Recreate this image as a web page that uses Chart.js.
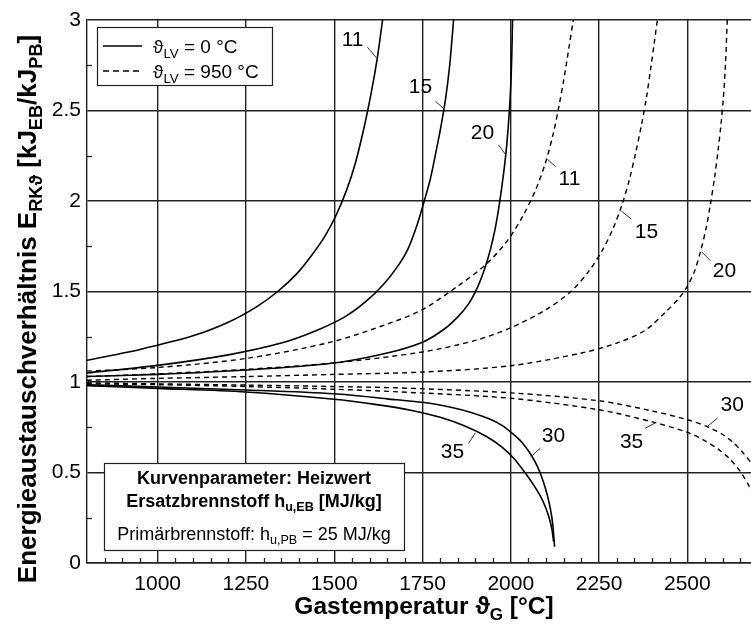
<!DOCTYPE html>
<html><head><meta charset="utf-8">
<script src="https://cdn.jsdelivr.net/npm/chart.js@4"></script>
<style>html,body{margin:0;padding:0;overflow:hidden;background:#fff;}#wrap{width:770px;height:625px;}</style>
</head><body><div id="wrap"><canvas id="c" width="770" height="625"></canvas></div>
<script>
const FONT = '"Liberation Sans", Arial, Helvetica, sans-serif';
const xTicks = [1000, 1250, 1500, 1750, 2000, 2250, 2500];
const yTicks = [0, 0.5, 1, 1.5, 2, 2.5, 3];
const yTickLabels = ['0', '0.5', '1', '1.5', '2', '2.5', '3'];

// ϑLV = 0 °C (solid)
const solid11X = [800, 950, 1100, 1200, 1280, 1340, 1395, 1440, 1475, 1505, 1535, 1560, 1585, 1605, 1622, 1637];
const solid11Y = [1.12, 1.18, 1.255, 1.33, 1.415, 1.50, 1.60, 1.71, 1.81, 1.92, 2.06, 2.21, 2.41, 2.60, 2.79, 3.0];
const solid15X = [800, 1000, 1200, 1350, 1450, 1530, 1590, 1640, 1680, 1710, 1735, 1755, 1772, 1788, 1802, 1815, 1827, 1838];
const solid15Y = [1.05, 1.092, 1.15, 1.215, 1.285, 1.36, 1.445, 1.54, 1.64, 1.74, 1.87, 2.0, 2.12, 2.27, 2.41, 2.56, 2.75, 3.0];
const solid20X = [800, 1000, 1250, 1500, 1650, 1750, 1810, 1850, 1880, 1905, 1925, 1942, 1955, 1965, 1974, 1982, 1989, 1995, 2000, 2003, 2005];
const solid20Y = [1.03, 1.042, 1.066, 1.105, 1.16, 1.22, 1.29, 1.36, 1.43, 1.52, 1.62, 1.73, 1.84, 1.95, 2.07, 2.19, 2.32, 2.47, 2.64, 2.82, 3.0];
const solid30X = [800, 1000, 1250, 1500, 1650, 1760, 1830, 1890, 1940, 1975, 2005, 2030, 2055, 2075, 2092, 2104, 2113, 2119, 2124];
const solid30Y = [0.985, 0.972, 0.956, 0.935, 0.907, 0.885, 0.86, 0.83, 0.795, 0.76, 0.715, 0.67, 0.605, 0.535, 0.45, 0.37, 0.29, 0.21, 0.09];
const solid35X = [800, 1000, 1250, 1500, 1620, 1720, 1800, 1870, 1930, 1975, 2010, 2040, 2065, 2085, 2100, 2110, 2117, 2121];
const solid35Y = [0.98, 0.965, 0.945, 0.905, 0.875, 0.843, 0.805, 0.757, 0.70, 0.64, 0.575, 0.50, 0.43, 0.365, 0.30, 0.24, 0.18, 0.12];

// ϑLV = 950 °C (dashed)
const dash11X = [800, 1000, 1250, 1490, 1650, 1750, 1850, 1930, 1990, 2035, 2070, 2098, 2120, 2136, 2150, 2164, 2177];
const dash11Y = [1.06, 1.08, 1.13, 1.22, 1.32, 1.40, 1.53, 1.65, 1.78, 1.92, 2.06, 2.21, 2.37, 2.52, 2.67, 2.84, 3.0];
const dash15X = [800, 1000, 1250, 1500, 1750, 1900, 2000, 2100, 2170, 2220, 2260, 2290, 2315, 2336, 2354, 2370, 2384, 2396, 2406, 2415];
const dash15Y = [1.03, 1.045, 1.07, 1.105, 1.166, 1.23, 1.30, 1.40, 1.50, 1.61, 1.73, 1.85, 1.98, 2.12, 2.27, 2.42, 2.57, 2.73, 2.87, 3.0];
const dash20X = [800, 1000, 1250, 1500, 1750, 2000, 2200, 2300, 2380, 2440, 2475, 2500, 2520, 2537, 2552, 2565, 2577, 2587, 2595, 2602, 2608, 2613];
const dash20Y = [1.01, 1.02, 1.03, 1.042, 1.055, 1.09, 1.16, 1.215, 1.285, 1.39, 1.46, 1.53, 1.61, 1.72, 1.84, 1.98, 2.13, 2.28, 2.42, 2.57, 2.76, 3.0];
const dash30X = [800, 1000, 1250, 1500, 1688, 2000, 2254, 2400, 2503, 2560, 2600, 2630, 2655, 2680, 2700];
const dash30Y = [0.995, 0.99, 0.983, 0.975, 0.967, 0.94, 0.895, 0.84, 0.79, 0.75, 0.71, 0.665, 0.615, 0.555, 0.50];
const dash35X = [800, 1000, 1250, 1500, 1688, 2000, 2254, 2400, 2503, 2550, 2590, 2620, 2650, 2675, 2700];
const dash35Y = [0.99, 0.985, 0.975, 0.96, 0.945, 0.91, 0.845, 0.78, 0.72, 0.675, 0.625, 0.575, 0.505, 0.425, 0.33];

// curve labels: text, text centre (x,y), leader from a to b (data units)
const curveLabels = [
  {t: '11', x: 1552, y: 2.89, a: [1594, 2.85], b: [1620, 2.79]},
  {t: '15', x: 1744, y: 2.63, a: [1787, 2.55], b: [1810, 2.51]},
  {t: '20', x: 1920, y: 2.375, a: [1965, 2.31], b: [1984, 2.26]},
  {t: '11', x: 2166, y: 2.12, a: [2104, 2.23], b: [2127, 2.19]},
  {t: '15', x: 2384, y: 1.83, a: [2313, 1.945], b: [2341, 1.90]},
  {t: '20', x: 2605, y: 1.61, a: [2540, 1.72], b: [2565, 1.67]},
  {t: '35', x: 1835, y: 0.61, a: [1880, 0.66], b: [1900, 0.72]},
  {t: '30', x: 2121, y: 0.70, a: [2056, 0.585], b: [2084, 0.635]},
  {t: '35', x: 2342, y: 0.67, a: [2381, 0.745], b: [2410, 0.775]},
  {t: '30', x: 2627, y: 0.87, a: [2557, 0.755], b: [2585, 0.80]}
];

function series(xs, ys, dashed) {
  return {
    data: xs.map((x, i) => ({x: x, y: ys[i]})),
    borderColor: '#000', borderWidth: dashed ? 1.4 : 1.6,
    borderDash: dashed ? [5, 4] : [], showLine: true, pointRadius: 0,
    tension: 0.3, fill: false
  };
}

function richWidth(ctx, parts, size, bold) {
  let w = 0;
  for (const p of parts) {
    ctx.font = (bold ? 'bold ' : '') + (p[1] ? size * 0.7 : size) + 'px ' + FONT;
    w += ctx.measureText(p[0]).width;
  }
  return w;
}
function drawRich(ctx, parts, x, y, size, bold, align) {
  const w = richWidth(ctx, parts, size, bold);
  let cx = align === 'center' ? x - w / 2 : (align === 'right' ? x - w : x);
  ctx.textAlign = 'left'; ctx.textBaseline = 'alphabetic'; ctx.fillStyle = '#000';
  for (const p of parts) {
    ctx.font = (bold ? 'bold ' : '') + (p[1] ? size * 0.7 : size) + 'px ' + FONT;
    ctx.fillText(p[0], cx, y + (p[1] ? size * 0.24 : 0));
    cx += ctx.measureText(p[0]).width;
  }
}

const decor = {
  id: 'decor',
  afterDatasetsDraw(chart) {
    const ctx = chart.ctx, xs = chart.scales.x, ys = chart.scales.y;
    const area = chart.chartArea;
    ctx.save();
    // minor ticks
    ctx.strokeStyle = '#222'; ctx.lineWidth = 1.3; ctx.setLineDash([]);
    for (let v = 850; v < 2700; v += 50) {
      if (v % 250 === 0) continue;
      const px = Math.round(xs.getPixelForValue(v)) + 0.5;
      ctx.beginPath(); ctx.moveTo(px, area.bottom); ctx.lineTo(px, area.bottom - 5); ctx.stroke();
    }
    for (let v = 0.25; v < 3; v += 0.5) {
      const py = Math.round(ys.getPixelForValue(v)) + 0.5;
      ctx.beginPath(); ctx.moveTo(area.left, py); ctx.lineTo(area.left + 5, py); ctx.stroke();
    }
    // curve labels
    ctx.lineWidth = 1; ctx.strokeStyle = '#333';
    for (const L of curveLabels) {
      ctx.beginPath();
      ctx.moveTo(xs.getPixelForValue(L.a[0]), ys.getPixelForValue(L.a[1]));
      ctx.lineTo(xs.getPixelForValue(L.b[0]), ys.getPixelForValue(L.b[1]));
      ctx.stroke();
      ctx.font = '21px ' + FONT; ctx.fillStyle = '#000';
      ctx.textAlign = 'center'; ctx.textBaseline = 'middle';
      ctx.fillText(L.t, xs.getPixelForValue(L.x), ys.getPixelForValue(L.y));
    }
    // legend box
    ctx.fillStyle = '#fff'; ctx.fillRect(97, 27, 175, 58);
    ctx.strokeStyle = '#222'; ctx.lineWidth = 1.2; ctx.strokeRect(97.5, 27.5, 175, 58);
    ctx.strokeStyle = '#000'; ctx.lineWidth = 1.5;
    ctx.beginPath(); ctx.moveTo(103, 46); ctx.lineTo(142, 46); ctx.stroke();
    ctx.setLineDash([6, 4]);
    ctx.beginPath(); ctx.moveTo(103, 71); ctx.lineTo(142, 71); ctx.stroke();
    ctx.setLineDash([]);
    drawRich(ctx, [['ϑ', 0], ['LV', 1], [' = 0 °C', 0]], 153, 53, 19, false, 'left');
    drawRich(ctx, [['ϑ', 0], ['LV', 1], [' = 950 °C', 0]], 153, 78, 19, false, 'left');
    // parameter box
    ctx.fillStyle = '#fff'; ctx.fillRect(104, 463, 300, 87);
    ctx.strokeStyle = '#222'; ctx.lineWidth = 1.2; ctx.strokeRect(104.5, 463.5, 300, 87);
    drawRich(ctx, [['Kurvenparameter: Heizwert', 0]], 254, 484, 18, true, 'center');
    drawRich(ctx, [['Ersatzbrennstoff h', 0], ['u,EB', 1], [' [MJ/kg]', 0]], 254, 507, 18, true, 'center');
    drawRich(ctx, [['Primärbrennstoff: h', 0], ['u,PB', 1], [' = 25 MJ/kg', 0]], 254, 540, 18, false, 'center');
    // axis titles
    drawRich(ctx, [['Gastemperatur ϑ', 0], ['G', 1], [' [°C]', 0]], 424, 614, 24.5, true, 'center');
    ctx.save();
    ctx.translate(36, 309); ctx.rotate(-Math.PI / 2);
    drawRich(ctx, [['Energieaustauschverhältnis E', 0], ['RKϑ', 1], [' [kJ', 0], ['EB', 1], ['/kJ', 0], ['PB', 1], [']', 0]], 0, 0, 26, true, 'center');
    ctx.restore();
    ctx.restore();
  }
};

new Chart(document.getElementById('c'), {
  type: 'scatter',
  data: {
    datasets: [
      series(solid11X, solid11Y, false), series(solid15X, solid15Y, false), series(solid20X, solid20Y, false),
      series(solid30X, solid30Y, false), series(solid35X, solid35Y, false),
      series(dash11X, dash11Y, true), series(dash15X, dash15Y, true), series(dash20X, dash20Y, true),
      series(dash30X, dash30Y, true), series(dash35X, dash35Y, true)
    ]
  },
  options: {
    responsive: false, animation: false,
    layout: {padding: {left: 0, top: 20, right: 12, bottom: 0}},
    plugins: {legend: {display: false}, tooltip: {enabled: false}},
    scales: {
      x: {
        type: 'linear', min: 800, max: 2700,
        afterBuildTicks: s => { s.ticks = xTicks.map(v => ({value: v})); },
        afterFit: s => { s.height = 62; },
        ticks: {font: {size: 21, family: FONT}, color: '#000', padding: 9, maxRotation: 0, autoSkip: false, callback: v => String(v)},
        grid: {color: '#222', lineWidth: 1.4, drawTicks: false},
        border: {color: '#222', width: 1.4}
      },
      y: {
        type: 'linear', min: 0, max: 3,
        afterBuildTicks: s => { s.ticks = yTicks.map(v => ({value: v})); },
        afterFit: s => { s.width = 87; },
        ticks: {font: {size: 21, family: FONT}, color: '#000', padding: 6, autoSkip: false,
          callback: v => { const i = yTicks.indexOf(v); return i >= 0 ? yTickLabels[i] : ''; }},
        grid: {color: '#222', lineWidth: 1.4, drawTicks: false},
        border: {color: '#222', width: 1.4}
      }
    }
  },
  plugins: [decor]
});
</script></body></html>
